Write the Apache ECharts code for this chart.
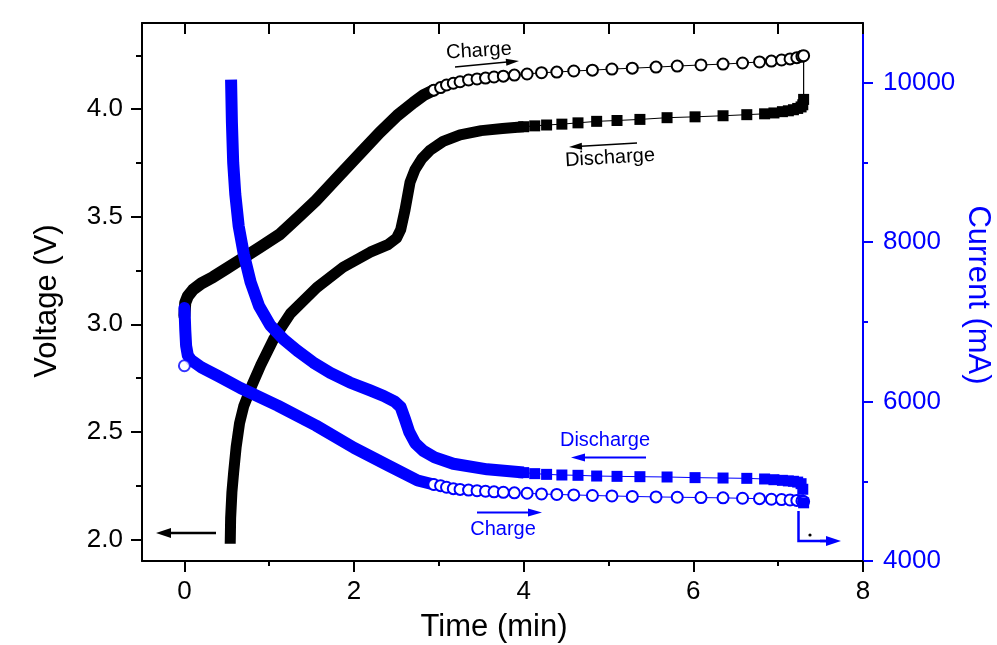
<!DOCTYPE html>
<html>
<head>
<meta charset="utf-8">
<script src="https://cdn.jsdelivr.net/npm/echarts@6/dist/echarts.min.js"></script>
<style>
html,body{margin:0;padding:0;background:#fff;}
#chart{width:997px;height:645px;}
</style>
</head>
<body>
<div id="chart"></div>
<script>
// ---------- axis ranges & ticks ----------
const X_MIN = -0.5, X_MAX = 8;
const V_MIN = 1.9, V_MAX = 4.4;
const I_MIN = 4000, I_MAX = 10750;
const xMajorTicks = [0, 2, 4, 6, 8];
const xMinorTicks = [1, 3, 5, 7];
const xTopTicks = [0, 1, 2, 3, 4, 5, 6, 7, 8];
const vMajorTicks = [2.0, 2.5, 3.0, 3.5, 4.0];
const vMinorTicks = [2.25, 2.75, 3.25, 3.75, 4.25];
const iMajorTicks = [4000, 6000, 8000, 10000];
const iMinorTicks = [5000, 7000, 9000];

// ---------- voltage, charge (dense part drawn as band) ----------
const vChargeBandT = [0.00, 0.01, 0.04, 0.10, 0.20, 0.34, 0.50, 0.66, 0.90, 1.13, 1.35, 1.55, 1.80, 2.11, 2.30, 2.51, 2.70, 2.82, 2.94];
const vChargeBandV = [3.04, 3.10, 3.13, 3.16, 3.19, 3.22, 3.26, 3.30, 3.36, 3.42, 3.50, 3.575, 3.68, 3.81, 3.89, 3.97, 4.03, 4.065, 4.088];
// ---------- voltage, discharge band ----------
const vDischargeBandT = [0.54, 0.545, 0.56, 0.58, 0.61, 0.65, 0.70, 0.80, 0.90, 1.05, 1.25, 1.56, 1.87, 2.19, 2.40, 2.50, 2.55, 2.60, 2.66, 2.72, 2.80, 2.90, 3.05, 3.25, 3.50, 3.75, 4.00];
const vDischargeBandV = [1.98, 2.10, 2.22, 2.31, 2.43, 2.54, 2.62, 2.72, 2.81, 2.93, 3.05, 3.17, 3.265, 3.335, 3.37, 3.40, 3.44, 3.53, 3.66, 3.72, 3.77, 3.81, 3.85, 3.88, 3.90, 3.91, 3.918];
// ---------- current, charge band ----------
const iChargeBandT = [0.00, 0.005, 0.01, 0.02, 0.04, 0.08, 0.20, 0.40, 0.66, 1.10, 1.55, 2.00, 2.40, 2.75, 2.94];
const iChargeBandI = [7175, 7050, 6900, 6700, 6580, 6520, 6430, 6320, 6170, 5950, 5700, 5420, 5200, 5010, 4960];
const iChargeStartT = [0.00];
const iChargeStartI = [6450];
// ---------- current, discharge band ----------
const iDischargeBandT = [0.55, 0.56, 0.575, 0.60, 0.64, 0.70, 0.78, 0.88, 1.01, 1.17, 1.33, 1.52, 1.72, 1.95, 2.19, 2.35, 2.48, 2.55, 2.60, 2.65, 2.72, 2.82, 2.95, 3.17, 3.57, 4.00];
const iDischargeBandI = [10040, 9500, 9000, 8600, 8200, 7850, 7500, 7200, 6960, 6780, 6640, 6490, 6360, 6240, 6140, 6070, 6000, 5930, 5780, 5620, 5480, 5380, 5300, 5220, 5150, 5110];

// ---------- individual markers, charge (open circles) ----------
const chargeMarkT = [2.94, 3.02, 3.09, 3.17, 3.25, 3.35, 3.45, 3.55, 3.65, 3.76, 3.89, 4.04, 4.21, 4.39, 4.59, 4.81, 5.04, 5.28, 5.56, 5.81, 6.09, 6.35, 6.58, 6.78, 6.92, 7.04, 7.14, 7.22, 7.28, 7.30];
const chargeMarkV = [4.088, 4.10, 4.112, 4.12, 4.127, 4.135, 4.14, 4.144, 4.149, 4.153, 4.158, 4.163, 4.169, 4.172, 4.177, 4.181, 4.186, 4.19, 4.195, 4.20, 4.205, 4.209, 4.214, 4.219, 4.223, 4.228, 4.233, 4.239, 4.245, 4.248];
const chargeMarkI = [4960, 4945, 4925, 4908, 4898, 4890, 4882, 4875, 4868, 4862, 4855, 4850, 4841, 4835, 4829, 4822, 4816, 4810, 4804, 4800, 4796, 4792, 4787, 4782, 4775, 4771, 4766, 4760, 4754, 4745];
// ---------- individual markers, discharge (filled squares) ----------
const dischargeMarkT = [4.00, 4.13, 4.27, 4.45, 4.64, 4.86, 5.10, 5.37, 5.69, 6.02, 6.35, 6.63, 6.84, 6.95, 7.05, 7.12, 7.18, 7.23, 7.27, 7.29, 7.30];
const dischargeMarkV = [3.918, 3.922, 3.926, 3.930, 3.936, 3.943, 3.947, 3.952, 3.960, 3.964, 3.969, 3.974, 3.978, 3.982, 3.988, 3.992, 3.997, 4.003, 4.010, 4.020, 4.045];
const dischargeMarkI = [5109, 5096, 5087, 5079, 5075, 5066, 5062, 5058, 5054, 5046, 5041, 5037, 5029, 5020, 5012, 5005, 5000, 4990, 4970, 4900, 4730];
// ---------- end-of-charge to start-of-discharge step ----------
const stepT = [7.30, 7.30];
const stepV = [4.248, 4.045];

// ---------- helpers ----------
const zip = (a, b) => a.map((v, i) => [v, b[i]]);
const FONT = "'Liberation Sans', Arial, Helvetica, sans-serif";
const BLACK = '#000000';
const BLUE = '#0000ff';

function arrow(x1, y1, x2, y2, color, width, headLen, headHalf) {
  const dx = x2 - x1, dy = y2 - y1;
  const len = Math.sqrt(dx * dx + dy * dy);
  const ux = dx / len, uy = dy / len;
  const bx = x2 - ux * headLen, by = y2 - uy * headLen;
  const px = -uy, py = ux;
  return [
    { type: 'line', silent: true, z: 100, shape: { x1: x1, y1: y1, x2: bx + ux * 1, y2: by + uy * 1 }, style: { stroke: color, lineWidth: width } },
    { type: 'polygon', silent: true, z: 100, shape: { points: [[x2, y2], [bx + px * headHalf, by + py * headHalf], [bx - px * headHalf, by - py * headHalf]] }, style: { fill: color } }
  ];
}
function label(text, x, y, color, size, rot) {
  return { type: 'text', silent: true, z: 100, x: x, y: y, rotation: rot || 0,
    style: { text: text, fill: color, font: size + 'px ' + FONT, align: 'center', verticalAlign: 'middle', textAlign: 'center', textVerticalAlign: 'middle' } };
}

const chart = echarts.init(document.getElementById('chart'), null, { renderer: 'canvas' });

const graphics = [].concat(
  [label('Voltage (V)', 47, 301, BLACK, 31, Math.PI / 2)],
  [label('Current (mA)', 978, 295, BLUE, 31, -Math.PI / 2)],
  [label('Time (min)', 494, 627, BLACK, 31, 0)],
  [label('Charge', 479, 51, BLACK, 20, 0.06)],
  arrow(455, 67, 519, 61, BLACK, 1.5, 13, 3.5),
  [label('Discharge', 610, 158, BLACK, 20, 0.06)],
  arrow(637, 143, 569, 147, BLACK, 1.5, 13, 3.5),
  [label('Discharge', 605, 440, BLUE, 20, 0)],
  arrow(646, 457.5, 571, 457.5, BLUE, 2, 14, 4),
  [label('Charge', 503, 529, BLUE, 20, 0)],
  arrow(477, 512.5, 542, 512.5, BLUE, 2, 14, 4),
  arrow(216, 533, 156, 533, BLACK, 2.5, 15, 5),
  [{ type: 'polyline', silent: true, z: 100, shape: { points: [[798.5, 511], [798.5, 541], [826, 541]] }, style: { stroke: BLUE, lineWidth: 2.5, fill: null } }],
  arrow(820, 541, 841, 541, BLUE, 2.5, 15, 5),
  [{ type: 'circle', silent: true, z: 100, shape: { cx: 810, cy: 535, r: 1.6 }, style: { fill: BLACK } }]
);

const axisCommon = { type: 'value', splitLine: { show: false } };

const option = {
  backgroundColor: '#ffffff',
  animation: false,
  grid: { left: 142, right: 134, top: 23, bottom: 84, containLabel: false },
  xAxis: [
    Object.assign({}, axisCommon, {
      min: X_MIN, max: X_MAX, position: 'bottom',
      axisLine: { onZero: false, lineStyle: { color: BLACK, width: 2 } },
      axisTick: { customValues: xMajorTicks, length: 11, lineStyle: { color: BLACK, width: 2 } },
      axisLabel: { customValues: xMajorTicks, margin: 18, fontSize: 26, fontFamily: FONT, color: BLACK }
    }),
    Object.assign({}, axisCommon, {
      min: X_MIN, max: X_MAX, position: 'bottom',
      axisLine: { show: false, onZero: false },
      axisTick: { customValues: xMinorTicks, length: 5, lineStyle: { color: BLACK, width: 2 } },
      axisLabel: { show: false }
    }),
    Object.assign({}, axisCommon, {
      min: X_MIN, max: X_MAX, position: 'top',
      axisLine: { onZero: false, lineStyle: { color: BLACK, width: 2 } },
      axisTick: { inside: true, customValues: xTopTicks, length: 11, lineStyle: { color: BLACK, width: 2 } },
      axisLabel: { show: false }
    })
  ],
  yAxis: [
    Object.assign({}, axisCommon, {
      min: V_MIN, max: V_MAX, position: 'left',
      axisLine: { show: true, onZero: false, lineStyle: { color: BLACK, width: 2 } },
      axisTick: { show: true, customValues: vMajorTicks, length: 11, lineStyle: { color: BLACK, width: 2 } },
      axisLabel: { customValues: vMajorTicks, margin: 19, fontSize: 26, fontFamily: FONT, color: BLACK, formatter: v => v.toFixed(1) }
    }),
    Object.assign({}, axisCommon, {
      min: I_MIN, max: I_MAX, position: 'right',
      axisLine: { show: true, onZero: false, lineStyle: { color: BLUE, width: 2 } },
      axisTick: { show: true, customValues: iMajorTicks, length: 10, lineStyle: { color: BLUE, width: 2 } },
      axisLabel: { customValues: iMajorTicks, margin: 20, fontSize: 26, fontFamily: FONT, color: BLUE, formatter: v => String(Math.round(v)) }
    }),
    Object.assign({}, axisCommon, {
      min: V_MIN, max: V_MAX, position: 'left',
      axisLine: { show: false, onZero: false },
      axisTick: { show: true, customValues: vMinorTicks, length: 6, lineStyle: { color: BLACK, width: 2 } },
      axisLabel: { show: false }
    }),
    Object.assign({}, axisCommon, {
      min: I_MIN, max: I_MAX, position: 'right',
      axisLine: { show: false, onZero: false },
      axisTick: { show: true, customValues: iMinorTicks, length: 5, lineStyle: { color: BLUE, width: 2 } },
      axisLabel: { show: false }
    })
  ],
  series: [
    // voltage (black)
    { name: 'V charge band', type: 'line', xAxisIndex: 0, yAxisIndex: 0, data: zip(vChargeBandT, vChargeBandV), showSymbol: false, symbol: 'none', lineStyle: { color: BLACK, width: 12, cap: 'round', join: 'round' }, z: 2 },
    { name: 'V discharge band', type: 'line', xAxisIndex: 0, yAxisIndex: 0, data: zip(vDischargeBandT, vDischargeBandV), showSymbol: false, symbol: 'none', lineStyle: { color: BLACK, width: 11, cap: 'butt', join: 'round' }, z: 2 },
    { name: 'V charge', type: 'line', xAxisIndex: 0, yAxisIndex: 0, data: zip(chargeMarkT, chargeMarkV), symbol: 'emptyCircle', symbolSize: 11, showAllSymbol: true, itemStyle: { color: BLACK, borderColor: BLACK, borderWidth: 1.8 }, lineStyle: { color: BLACK, width: 1 }, z: 3 },
    { name: 'V discharge', type: 'line', xAxisIndex: 0, yAxisIndex: 0, data: zip(dischargeMarkT, dischargeMarkV), symbol: 'rect', symbolSize: 11, showAllSymbol: true, itemStyle: { color: BLACK }, lineStyle: { color: BLACK, width: 1 }, z: 3 },
    { name: 'V step', type: 'line', xAxisIndex: 0, yAxisIndex: 0, data: zip(stepT, stepV), symbol: 'none', lineStyle: { color: BLACK, width: 1.2 }, z: 2 },
    // current (blue)
    { name: 'I charge band', type: 'line', xAxisIndex: 0, yAxisIndex: 1, data: zip(iChargeBandT, iChargeBandI), showSymbol: false, symbol: 'none', lineStyle: { color: BLUE, width: 12, cap: 'round', join: 'round' }, z: 4 },
    { name: 'I discharge band', type: 'line', xAxisIndex: 0, yAxisIndex: 1, data: zip(iDischargeBandT, iDischargeBandI), showSymbol: false, symbol: 'none', lineStyle: { color: BLUE, width: 12, cap: 'butt', join: 'round' }, z: 4 },
    { name: 'I charge', type: 'line', xAxisIndex: 0, yAxisIndex: 1, data: zip(chargeMarkT, chargeMarkI), symbol: 'emptyCircle', symbolSize: 11, showAllSymbol: true, itemStyle: { color: BLUE, borderColor: BLUE, borderWidth: 1.8 }, lineStyle: { color: BLUE, width: 1 }, z: 5 },
    { name: 'I discharge', type: 'line', xAxisIndex: 0, yAxisIndex: 1, data: zip(dischargeMarkT, dischargeMarkI), symbol: 'rect', symbolSize: 11, showAllSymbol: true, itemStyle: { color: BLUE }, lineStyle: { color: BLUE, width: 1 }, z: 5 },
    { name: 'I charge start', type: 'scatter', xAxisIndex: 0, yAxisIndex: 1, data: zip(iChargeStartT, iChargeStartI), symbol: 'emptyCircle', symbolSize: 11, itemStyle: { color: BLUE, borderColor: BLUE, borderWidth: 1.8 }, z: 5 }
  ],
  graphic: graphics
};

chart.setOption(option);
</script>
</body>
</html>
